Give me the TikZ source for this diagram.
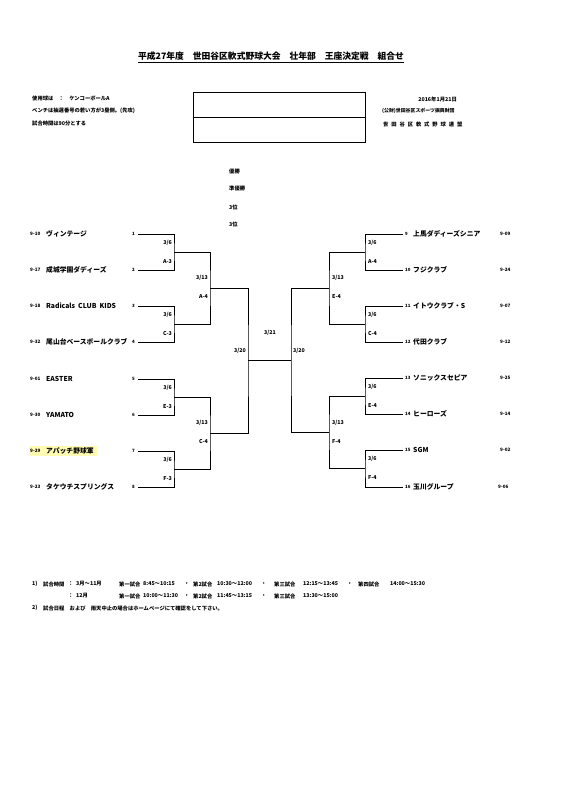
\documentclass[tikz,border=0pt]{standalone}
\usepackage{fontspec}
\setmainfont{Noto Sans CJK JP}
\newcommand\gapx{\hspace{2.9pt}}
\begin{document}
\bfseries
\begin{tikzpicture}[x=1pt,y=-1pt,
  txt/.style={inner sep=0pt, anchor=west},
  team/.style={txt, font=\fontsize{6.8}{7}\selectfont\bfseries},
  code/.style={txt, font=\fontsize{4.6}{5}\selectfont\bfseries},
  seedl/.style={inner sep=0pt, anchor=east, font=\fontsize{4.4}{5}\selectfont\bfseries},
  seedr/.style={inner sep=0pt, anchor=west, font=\fontsize{4.4}{5}\selectfont\bfseries},
  labl/.style={inner sep=0pt, anchor=east, font=\fontsize{5.3}{6}\selectfont\bfseries},
  labr/.style={inner sep=0pt, anchor=west, font=\fontsize{5.3}{6}\selectfont\bfseries},
  small/.style={txt, font=\fontsize{5.3}{6}\selectfont\bfseries},
  foot/.style={txt, font=\fontsize{5.3}{6}\selectfont\bfseries},
  bk/.style={line width=0.8pt, black}]
\useasboundingbox (0,0) rectangle (581,800);

% title
\node[inner sep=0pt] (title) at (271,57) {\fontsize{8.8}{10}\selectfont\bfseries\underline{平成27年度　世田谷区軟式野球大会　壮年部　王座決定戦　組合せ}};

% top left
\node[small] (t1) at (32,98) {使用球は　：　ケンコーボールA};
\node[small] (t2) at (32,111) {ベンチは抽選番号の若い方が3塁側。(先攻)};
\node[small] (t3) at (32,124) {試合時間は90分とする};

% box
\node[draw, line width=0.7pt, minimum width=172pt, minimum height=50pt, inner sep=0pt] (box) at (279,117) {};
\draw[line width=0.7pt] (box.west) -- (box.east);

% top right
\node[small, anchor=east] (date) at (457,99) {2016年1月21日};
\node[txt, font=\fontsize{4.9}{6}\selectfont\bfseries] (org) at (382,111) {(公財)世田谷区スポーツ振興財団};
\node[small] (fed) at (383,124) {世\gapx 田\gapx 谷\gapx 区\gapx 軟\gapx 式\gapx 野\gapx 球\gapx 連\gapx 盟};

% ranks
\node[small] (r1) at (229,171) {優勝};
\node[small] (r2) at (229,188) {準優勝};
\node[small] (r3) at (229,207) {3位};
\node[small] (r4) at (229,224) {3位};

% highlight
\fill[yellow!30] (29,446) rectangle (97,456);

% left teams
\node[code] (c1) at (30,234) {9-10}; \node[team] (n1) at (46,234) {ヴィンテージ};
\node[code] (c2) at (30,270) {9-17}; \node[team] (n2) at (46,270) {成城学園ダディーズ};
\node[code] (c3) at (30,306) {9-18}; \node[team] (n3) at (46,306) {Radicals\ \ CLUB\ \ KIDS};
\node[code] (c4) at (30,342) {9-32}; \node[team] (n4) at (46,342) {尾山台ベースボールクラブ};
\node[code] (c5) at (30,379) {9-01}; \node[team] (n5) at (46,379) {EASTER};
\node[code] (c6) at (30,415) {9-30}; \node[team] (n6) at (46,415) {YAMATO};
\node[code] (c7) at (30,451) {9-29}; \node[team] (n7) at (46,451) {アパッチ野球軍};
\node[code] (c8) at (30,487) {9-23}; \node[team] (n8) at (46,487) {タケウチスプリングス};

\node[seedl] (s1) at (135,234) {1};
\node[seedl] (s2) at (135,270) {2};
\node[seedl] (s3) at (135,306) {3};
\node[seedl] (s4) at (135,342) {4};
\node[seedl] (s5) at (135,379) {5};
\node[seedl] (s6) at (135,415) {6};
\node[seedl] (s7) at (135,451) {7};
\node[seedl] (s8) at (135,487) {8};

% right teams
\node[seedr] (s9) at (405,234) {9};    \node[team] (n9) at (413,234) {上馬ダディーズシニア};   \node[code] (c9) at (500,234) {9-09};
\node[seedr] (s10) at (405,270) {10};  \node[team] (n10) at (413,270) {フジクラブ};           \node[code] (c10) at (500,270) {9-24};
\node[seedr] (s11) at (405,306) {11};  \node[team] (n11) at (413,306) {イトウクラブ・S};       \node[code] (c11) at (500,306) {9-07};
\node[seedr] (s12) at (405,342) {12};  \node[team] (n12) at (413,342) {代田クラブ};           \node[code] (c12) at (500,342) {9-12};
\node[seedr] (s13) at (405,378) {13};  \node[team] (n13) at (413,378) {ソニックスセピア};     \node[code] (c13) at (500,378) {9-25};
\node[seedr] (s14) at (405,414) {14};  \node[team] (n14) at (413,414) {ヒーローズ};           \node[code] (c14) at (500,414) {9-14};
\node[seedr] (s15) at (405,450) {15};  \node[team] (n15) at (413,450) {SGM};                 \node[code] (c15) at (500,450) {9-02};
\node[seedr] (s16) at (405,487) {16};  \node[team] (n16) at (413,487) {玉川グループ};         \node[code] (c16) at (498,487) {9-06};

% bracket coordinates left
\coordinate (a1) at (138,234); \coordinate (a2) at (138,270);
\coordinate (a3) at (138,306); \coordinate (a4) at (138,342);
\coordinate (a5) at (138,379); \coordinate (a6) at (138,415);
\coordinate (a7) at (138,451); \coordinate (a8) at (138,487);
\coordinate (v12) at (174,252); \coordinate (v34) at (174,324);
\coordinate (v56) at (174,397); \coordinate (v78) at (174,469);
\coordinate (v1234) at (210,288); \coordinate (v5678) at (210,433);
\coordinate (vL) at (248,360.5);
% right
\coordinate (b9) at (403,234); \coordinate (b10) at (403,270);
\coordinate (b11) at (403,306); \coordinate (b12) at (403,342);
\coordinate (b13) at (403,378); \coordinate (b14) at (403,414);
\coordinate (b15) at (403,450); \coordinate (b16) at (403,487);
\coordinate (w910) at (365,252); \coordinate (w1112) at (365,324);
\coordinate (w1314) at (365,396); \coordinate (w1516) at (365,468.5);
\coordinate (w912) at (329,288); \coordinate (w1316) at (329,432);
\coordinate (vR) at (291,360.5);

\draw[bk] (a1) -| (v12) |- (a2);
\draw[bk] (a3) -| (v34) |- (a4);
\draw[bk] (a5) -| (v56) |- (a6);
\draw[bk] (a7) -| (v78) |- (a8);
\draw[bk] (v12) -| (v1234) |- (v34);
\draw[bk] (v56) -| (v5678) |- (v78);
\draw[bk] (v1234) -| (vL) |- (v5678);
\draw[bk] (b9) -| (w910) |- (b10);
\draw[bk] (b11) -| (w1112) |- (b12);
\draw[bk] (b13) -| (w1314) |- (b14);
\draw[bk] (b15) -| (w1516) |- (b16);
\draw[bk] (w910) -| (w912) |- (w1112);
\draw[bk] (w1314) -| (w1316) |- (w1516);
\draw[bk] (w912) -| (vR) |- (w1316);
\draw[bk] (vL) -- (vR);

% left labels
\node[labl] (l1a) at (172,243) {3/6}; \node[labl] (l1b) at (172,262) {A-3};
\node[labl] (l2a) at (172,315) {3/6}; \node[labl] (l2b) at (172,334) {C-3};
\node[labl] (l3a) at (172,388) {3/6}; \node[labl] (l3b) at (172,407) {E-3};
\node[labl] (l4a) at (172,460) {3/6}; \node[labl] (l4b) at (172,479) {F-3};
\node[labl] (l5a) at (208,278) {3/13}; \node[labl] (l5b) at (208,297) {A-4};
\node[labl] (l6a) at (208,423) {3/13}; \node[labl] (l6b) at (208,442) {C-4};
% right labels
\node[labr] (m1a) at (368,243) {3/6}; \node[labr] (m1b) at (368,262) {A-4};
\node[labr] (m2a) at (368,315) {3/6}; \node[labr] (m2b) at (368,334) {C-4};
\node[labr] (m3a) at (368,387) {3/6}; \node[labr] (m3b) at (368,406) {E-4};
\node[labr] (m4a) at (368,459) {3/6}; \node[labr] (m4b) at (368,478) {F-4};
\node[labr] (m5a) at (332,278) {3/13}; \node[labr] (m5b) at (332,297) {E-4};
\node[labr] (m6a) at (332,423) {3/13}; \node[labr] (m6b) at (332,442) {F-4};
% centre
\node[inner sep=0pt, font=\fontsize{5.3}{6}\selectfont\bfseries] (fin) at (270,333) {3/21};
\node[labl] (sfl) at (246,351) {3/20};
\node[labr] (sfr) at (293,351) {3/20};

% footer
\node[foot] (f1) at (32,584) {1)};
\node[foot] (f2) at (43,584) {試合時間};
\node[foot] (f3) at (68,584) {：};
\node[foot] (f4) at (76,584) {3月～11月};
\node[foot] (f5) at (119,584) {第一試合};
\node[foot] (f6) at (143,584) {8:45～10:15};
\node[foot] (f7) at (184,584) {・};
\node[foot] (f8) at (193,584) {第2試合};
\node[foot] (f9) at (217,584) {10:30～12:00};
\node[foot] (f10) at (261,584) {・};
\node[foot] (f11) at (274,584) {第三試合};
\node[foot] (f12) at (303,584) {12:15～13:45};
\node[foot] (f13) at (347,584) {・};
\node[foot] (f14) at (358,584) {第四試合};
\node[foot] (f15) at (390,584) {14:00～15:30};

\node[foot] (g3) at (68,596) {：};
\node[foot] (g4) at (76,596) {12月};
\node[foot] (g5) at (119,596) {第一試合};
\node[foot] (g6) at (143,596) {10:00～11:30};
\node[foot] (g7) at (184,596) {・};
\node[foot] (g8) at (193,596) {第2試合};
\node[foot] (g9) at (217,596) {11:45～13:15};
\node[foot] (g10) at (261,596) {・};
\node[foot] (g11) at (274,596) {第三試合};
\node[foot] (g12) at (303,596) {13:30～15:00};

\node[foot] (h1) at (32,608) {2)};
\node[foot] (h2) at (43,608) {試合日程　および　雨天中止の場合はホームページにて確認をして下さい。};
\end{tikzpicture}
\end{document}
